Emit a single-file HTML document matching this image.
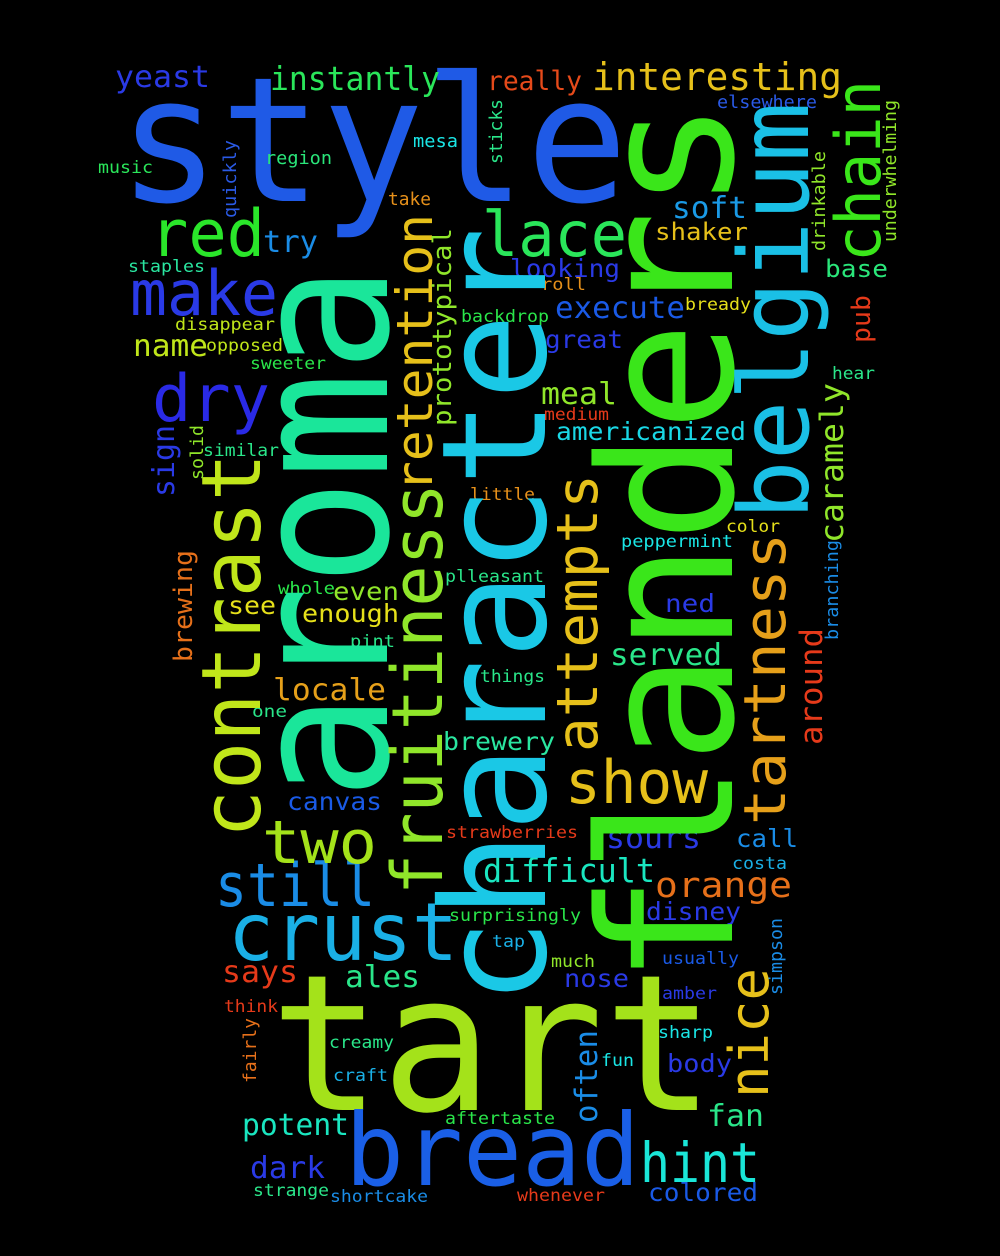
<!DOCTYPE html>
<html><head><meta charset="utf-8">
<style>
html,body{margin:0;padding:0;background:#000;}
svg{display:block;}
text{font-family:"DejaVu Sans Mono","Liberation Mono",monospace;}
</style></head>
<body>
<svg id="cloud" width="1000" height="1256" viewBox="0 0 1000 1256" xmlns="http://www.w3.org/2000/svg">
<rect width="1000" height="1256" fill="#000"/>
</svg>
<script>
// word, x, y, length, font size, color, vertical(1)
const words = [
["style",118,201,510,174,"#1f5ae6",0],
["tart",270,1110,445,190,"#a4e21a",0],
["bread",345,1185,295,100,"#1a5fe6",0],
["crust",228,960,230,80,"#1ab0e6",0],
["still",215,906,160,60,"#1a8ce6",0],
["two",262,863,115,60,"#a4e21a",0],
["show",565,803,143,60,"#e6c01a",0],
["hint",640,1182,120,55,"#1ae6d8",0],
["red",150,256,115,65,"#2ae62a",0],
["make",130,315,148,62,"#2a3ae6",0],
["dry",152,421,118,65,"#2a2ae6",0],
["lace",482,256,145,62,"#2ae65a",0],
["instantly",270,90,170,33,"#2ae65a",0],
["interesting",592,90,250,38,"#e6c01a",0],
["yeast",115,87,95,30,"#2a3ae6",0],
["really",487,90,95,27,"#e64a1a",0],
["elsewhere",717,108,100,18,"#2a5ae6",0],
["mesa",413,147,45,18,"#1ae6e6",0],
["music",98,173,55,17,"#2ae65a",0],
["region",265,164,67,18,"#2ae67a",0],
["take",388,205,43,18,"#e6901a",0],
["soft",672,218,75,30,"#1a9ae6",0],
["try",263,252,55,30,"#1a8ce6",0],
["shaker",655,240,93,24,"#e6c01a",0],
["staples",128,272,77,17,"#2ae6a0",0],
["looking",510,277,110,25,"#2a3ae6",0],
["base",825,277,63,24,"#2ae67a",0],
["roll",541,290,45,17,"#e6901a",0],
["execute",555,318,130,30,"#1a5ae6",0],
["bready",685,310,66,17,"#e6e01a",0],
["backdrop",461,322,88,17,"#2ae64a",0],
["disappear",175,330,100,17,"#c0e61a",0],
["name",133,356,75,30,"#c0e61a",0],
["opposed",206,351,77,17,"#c0e61a",0],
["great",545,348,78,25,"#2a3ae6",0],
["sweeter",250,369,76,17,"#2ae64a",0],
["hear",832,379,43,17,"#2ae68a",0],
["meal",541,404,76,30,"#90e62a",0],
["medium",544,420,65,17,"#e63a1a",0],
["americanized",556,440,190,25,"#1ad8e6",0],
["similar",203,456,76,17,"#2ae68a",0],
["little",470,500,65,17,"#e6901a",0],
["color",726,532,54,17,"#e6e01a",0],
["peppermint",621,547,112,17,"#1ae6e6",0],
["plleasant",445,582,99,17,"#2ae68a",0],
["whole",278,594,57,17,"#2ae64a",0],
["even",333,600,66,25,"#90e62a",0],
["see",228,614,48,25,"#e6e01a",0],
["enough",302,622,97,25,"#e6e01a",0],
["ned",665,612,50,25,"#2a3ae6",0],
["pint",350,647,45,17,"#2ae68a",0],
["served",610,665,112,30,"#2ae68a",0],
["things",480,682,65,17,"#2ae68a",0],
["locale",273,700,113,30,"#e6a01a",0],
["one",252,717,35,17,"#2ae68a",0],
["brewery",443,750,112,25,"#2ae6a0",0],
["canvas",287,810,95,25,"#1a5ae6",0],
["strawberries",446,838,132,17,"#e63a1a",0],
["sours",606,848,95,30,"#2a3ae6",0],
["call",736,847,62,25,"#1a8ce6",0],
["difficult",483,882,172,33,"#1ae6c0",0],
["orange",655,897,137,35,"#e6701a",0],
["costa",732,869,55,17,"#1ab0e6",0],
["surprisingly",449,921,132,17,"#2ae64a",0],
["disney",646,920,95,25,"#2a3ae6",0],
["tap",492,947,33,17,"#1ab0e6",0],
["says",222,982,76,30,"#e63a1a",0],
["ales",345,987,75,30,"#2ae68a",0],
["much",551,967,44,17,"#90e62a",0],
["nose",564,987,65,25,"#2a3ae6",0],
["usually",662,964,77,17,"#1a5ae6",0],
["think",224,1012,54,17,"#e63a1a",0],
["amber",662,999,55,17,"#2a3ae6",0],
["sharp",658,1038,55,17,"#1ae6e6",0],
["creamy",329,1048,65,17,"#2ae68a",0],
["fun",601,1066,33,17,"#1ae6e6",0],
["body",667,1072,65,25,"#2a3ae6",0],
["craft",333,1081,55,17,"#1ab0e6",0],
["fan",707,1126,57,30,"#2ae68a",0],
["aftertaste",445,1124,110,17,"#2ae64a",0],
["potent",242,1135,107,30,"#1ae6c0",0],
["dark",250,1178,75,30,"#2a3ae6",0],
["colored",648,1201,110,25,"#1a5ae6",0],
["strange",253,1196,76,17,"#2ae68a",0],
["shortcake",330,1202,98,17,"#1a8ce6",0],
["whenever",517,1201,88,17,"#e63a1a",0],
["aroma",387,800,535,190,"#1ae69a",1],
["flanders",732,985,885,185,"#3ae61a",1],
["character",545,1005,778,145,"#1ac8e6",1],
["belgium",808,520,418,96,"#1ac0e6",1],
["contrast",260,838,385,82,"#c0e61a",1],
["fruitiness",442,895,412,70,"#90e62a",1],
["retention",432,492,278,50,"#e6c01a",1],
["attempts",597,752,278,57,"#e6c01a",1],
["tartness",785,825,292,58,"#e6a01a",1],
["chain",880,262,182,62,"#3ae61a",1],
["nice",768,1098,130,54,"#e6c01a",1],
["caramely",843,543,160,32,"#90e62a",1],
["around",822,745,117,31,"#e63a1a",1],
["pub",870,343,48,26,"#e63a1a",1],
["drinkable",825,251,100,18,"#90e62a",1],
["underwhelming",896,242,142,18,"#90e62a",1],
["prototypical",451,426,198,26,"#90e62a",1],
["sign",174,497,72,30,"#2a3ae6",1],
["solid",203,480,55,18,"#90e62a",1],
["quickly",236,218,78,18,"#2a5ae6",1],
["sticks",502,164,65,18,"#2ae68a",1],
["brewing",192,662,112,26,"#e6701a",1],
["fairly",256,1083,65,18,"#e6701a",1],
["often",597,1123,93,31,"#1a8ce6",1],
["branching",838,640,100,18,"#1a8ce6",1],
["simpson",782,995,77,18,"#1a8ce6",1]
];
const svg = document.getElementById('cloud');
const NS = 'http://www.w3.org/2000/svg';
words.forEach(w => {
  const t = document.createElementNS(NS, 'text');
  
  
  t.setAttribute('x', 0);
  t.setAttribute('y', 0);
  t.setAttribute('font-size', w[4]);
  t.setAttribute('fill', w[5]);
  t.setAttribute('textLength', w[3]);
  t.setAttribute('lengthAdjust', 'spacingAndGlyphs');
  t.setAttribute('transform', 'translate(' + w[1] + ',' + w[2] + ')' + (w[6] ? ' rotate(-90)' : ''));
  t.textContent = w[0];
  svg.appendChild(t);
});
</script>
</body></html>
